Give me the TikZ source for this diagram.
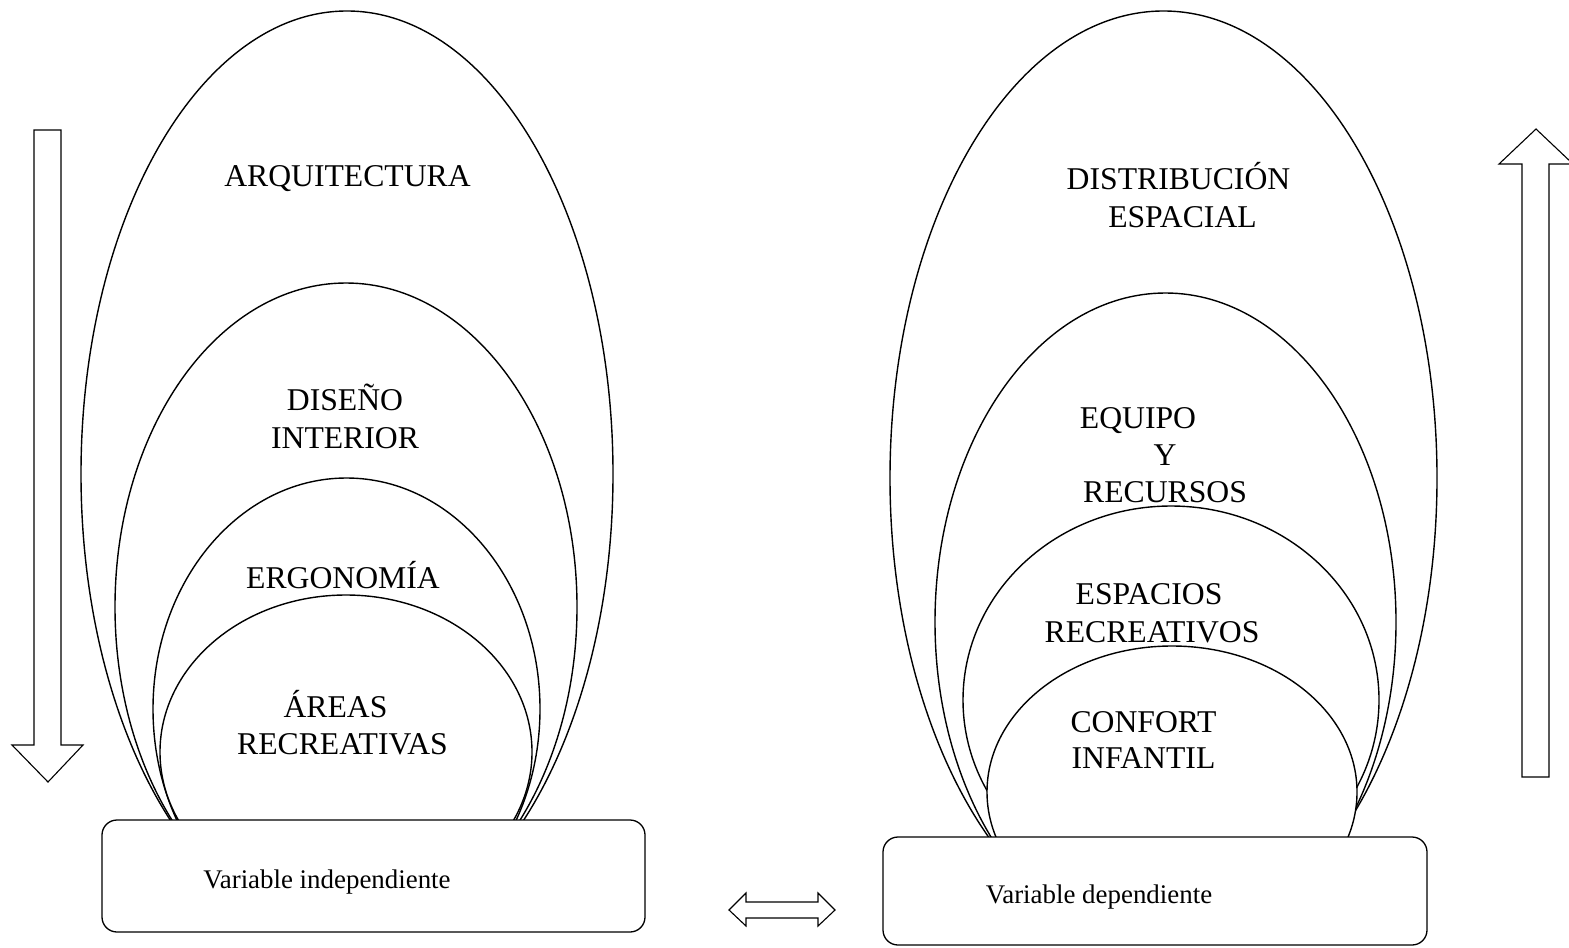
\documentclass[tikz,border=0pt]{standalone}
\usepackage{fontspec}
\setmainfont{Liberation Serif}
\begin{document}
\begin{tikzpicture}[x=1bp,y=-1bp,
  shell/.style={draw=black,line width=1.4bp,fill=white},
  lbl/.style={font=\fontsize{31.8}{37}\selectfont,inner sep=0pt,anchor=base},
  vlbl/.style={font=\fontsize{27}{32}\selectfont,inner sep=0pt,anchor=base},
  basebox/.style={draw=black,line width=1.3bp,fill=white,rounded corners=15bp,inner sep=0pt},
  blockarrow/.style={draw=black,line width=1.1bp,fill=white,line join=miter}]
\useasboundingbox (0,0) rectangle (1569,947);
\clip (0,0) rectangle (1569,947);

% left group of ellipses
\begin{scope}
\clip (0,0) rectangle (760,820);
\path[shell] (347,474) ellipse [x radius=266bp, y radius=463bp];
\path[shell] (346,607) ellipse [x radius=231bp, y radius=324bp];
\path[shell] (346.5,709) ellipse [x radius=193.5bp, y radius=231bp];
\path[shell] (346,752) ellipse [x radius=186bp, y radius=157bp];
\end{scope}

% right group of ellipses
\begin{scope}
\clip (760,0) rectangle (1569,837);
\path[shell] (1163.5,478) ellipse [x radius=273.5bp, y radius=467bp];
\path[shell] (1165.5,622) ellipse [x radius=230.5bp, y radius=329bp];
\path[shell] (1171,700) ellipse [x radius=208bp, y radius=194bp];
\path[shell] (1172,792) ellipse [x radius=185bp, y radius=146bp];
\end{scope}

% base boxes
\node[basebox, minimum width=543bp, minimum height=112bp] (vi) at (373.5,876) {};
\node[basebox, minimum width=544bp, minimum height=108bp] (vd) at (1155,891) {};
\node[vlbl] (tvi) at (327,888) {Variable independiente};
\node[vlbl] (tvd) at (1099,903) {Variable dependiente};

% left labels
\node[lbl] (arq) at (347.5,186) {ARQUITECTURA};
\node[lbl] (dis1) at (345,410) {DISEÑO};
\node[lbl] (dis2) at (345,448) {INTERIOR};
\node[lbl] (erg) at (343,588) {ERGONOMÍA};
\node[lbl] (are1) at (335.5,717) {ÁREAS};
\node[lbl] (are2) at (342.5,754) {RECREATIVAS};

% right labels
\node[lbl] (dist1) at (1178.5,189) {DISTRIBUCIÓN};
\node[lbl] (dist2) at (1182.5,227) {ESPACIAL};
\node[lbl] (eq1) at (1138,428) {EQUIPO};
\node[lbl] (eq2) at (1165,465) {Y};
\node[lbl] (eq3) at (1165,502) {RECURSOS};
\node[lbl] (esp1) at (1149,604) {ESPACIOS};
\node[lbl] (esp2) at (1152,642) {RECREATIVOS};
\node[lbl] (conf1) at (1143.5,732) {CONFORT};
\node[lbl] (conf2) at (1143.5,768) {INFANTIL};

% block arrows
\path[blockarrow] (34,130) -- (61,130) -- (61,745) -- (83,745) -- (48,782) -- (12,745) -- (34,745) -- cycle;
\path[blockarrow] (1522,777) -- (1549,777) -- (1549,164) -- (1573,164) -- (1536,129) -- (1499,164) -- (1522,164) -- cycle;
\path[blockarrow] (729,910) -- (746,893) -- (746,902) -- (818,902) -- (818,893) -- (835,910) -- (818,926) -- (818,918) -- (746,918) -- (746,926) -- cycle;
\end{tikzpicture}
\end{document}
